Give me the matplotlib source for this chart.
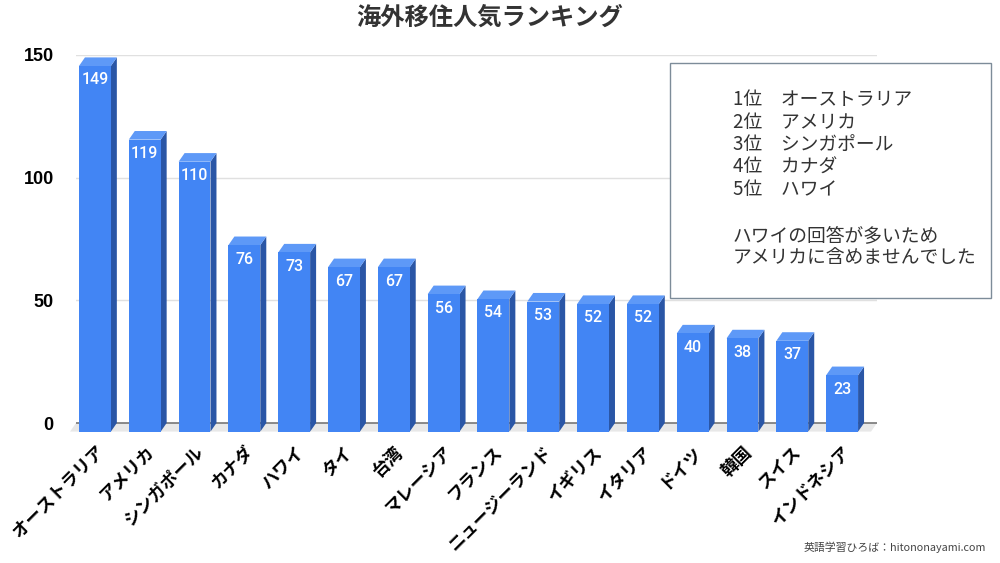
import matplotlib
matplotlib.use("Agg")
import matplotlib.pyplot as plt
from matplotlib.patches import Polygon, Rectangle

plt.rcParams['font.family'] = ['Noto Sans CJK JP', 'DejaVu Sans']

countries = ["オーストラリア", "アメリカ", "シンガポール", "カナダ", "ハワイ", "タイ", "台湾",
             "マレーシア", "フランス", "ニュージーランド", "イギリス", "イタリア", "ドイツ",
             "韓国", "スイス", "インドネシア"]
votes = [149, 119, 110, 76, 73, 67, 67, 56, 54, 53, 52, 52, 40, 38, 37, 23]
y_ticks = [0, 50, 100, 150]
ranking_note = ["1位\u3000オーストラリア", "2位\u3000アメリカ", "3位\u3000シンガポール",
                "4位\u3000カナダ", "5位\u3000ハワイ", "",
                "ハワイの回答が多いため", "アメリカに含めませんでした"]

FRONT = "#4285f4"
SIDE = "#2a56a6"
TOP = "#5e99f7"
width = 0.64
dx, dy = 0.12, 3.5   # depth of the fake 3D bars, in data units

fig = plt.figure(figsize=(10, 5.63), dpi=100)
ax = fig.add_axes([0.076, 0.2334, 0.801, 0.669])
x = list(range(len(votes)))
ax.set_xlim(-0.38, 15.70)
ax.set_ylim(-dy, 150)

for s in ax.spines.values():
    s.set_visible(False)
for t in y_ticks[1:]:
    ax.axhline(t, color="#e0e0e0", lw=1, zorder=0)

# floor
x0, x1 = ax.get_xlim()
ax.add_patch(Polygon([(x0, 0), (x1, 0), (x1 - dx, -dy), (x0 - dx, -dy)],
                     closed=True, fc="#e8e8e8", ec="none", zorder=0.5, clip_on=False))
ax.axhline(0, color="#777777", lw=1.2, zorder=0.6)

ax.bar(x, votes, bottom=-dy, width=width, color=FRONT, zorder=3, clip_on=False)
for i, v in zip(x, votes):
    xl, xr = i - width / 2, i + width / 2
    ax.add_patch(Polygon([(xr, -dy), (xr + dx, 0), (xr + dx, v), (xr, v - dy)],
                         closed=True, fc=SIDE, ec="none", zorder=2, clip_on=False))
    ax.add_patch(Polygon([(xl, v - dy), (xr, v - dy), (xr + dx, v), (xl + dx, v)],
                         closed=True, fc=TOP, ec="none", zorder=2, clip_on=False))
    ax.annotate(str(v), xy=(i, v - dy), xytext=(0, -10), textcoords="offset points",
                ha="center", va="center", color="white", fontsize=11.5, fontweight="medium",
                family=["Roboto", "DejaVu Sans"], zorder=4)

ax.set_yticks(y_ticks)
ax.set_yticklabels([str(t) for t in y_ticks], fontsize=13, fontweight="bold",
                   family=["Liberation Sans", "DejaVu Sans"])
ax.tick_params(axis="y", length=0, pad=16)
ax.set_xticks(x)
ax.set_xticklabels(countries, rotation=45, ha="right", va="top", rotation_mode="anchor",
                   fontsize=12.5, fontweight="bold")
ax.tick_params(axis="x", length=0, pad=8)

fig.text(0.49, 0.968, "海外移住人気ランキング", ha="center", va="center",
         fontsize=17.5, fontweight="bold", color="#333333")

fig.patches.append(Rectangle((0.670, 1 - 298 / 563), 0.321, 235 / 563,
                             transform=fig.transFigure, fc="white", ec="#7d8c99",
                             lw=1, zorder=5))
fig.text(0.733, 1 - 89 / 563, "\n".join(ranking_note), ha="left", va="top",
         fontsize=13.5, linespacing=1.1, color="#333333", zorder=6)

fig.text(0.986, 0.028, "英語学習ひろば：hitononayami.com", ha="right", va="center",
         fontsize=7.8, color="#444444")

fig.savefig("out.png", dpi=100)
